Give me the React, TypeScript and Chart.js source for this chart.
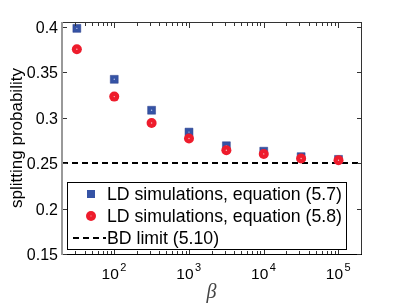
import React, { useEffect, useRef } from "react";
import { Chart, registerables } from "chart.js";
Chart.register(...registerables);

// ---- data ----
const beta = [31.6, 100, 316, 1000, 3162, 10000, 31623, 100000];
const eq57 = [0.398, 0.342, 0.308, 0.284, 0.269, 0.263, 0.257, 0.254];
const eq58 = [0.375, 0.323, 0.294, 0.277, 0.264, 0.26, 0.255, 0.253];
const bdLimit = 0.25;
const xRange = [20, 200000];
const yRange = [0.15, 0.405];
const yTicks = [0.15, 0.2, 0.25, 0.3, 0.35, 0.4];
const yTickLabels = ["0.15", "0.2", "0.25", "0.3", "0.35", "0.4"];
const xMajorTicks = [100, 1000, 10000, 100000];
const xTickBase = "10";
const xTickExps = ["2", "3", "4", "5"];
const legendLabels = [
  "LD simulations, equation (5.7)",
  "LD simulations, equation (5.8)",
  "BD limit (5.10)",
];
const yTitle = "splitting probability";
const xTitle = "β";

const BLUE = "#3553a5";
const RED = "#ee1c2c";
const FONT = "Liberation Sans, Arial, sans-serif";

const framePlugin = {
  id: "frame",
  afterDraw(chart: any) {
    const { ctx, chartArea: ca, scales } = chart;
    const xs = scales.x;
    const ys = scales.y;
    const L = Math.round(ca.left), R = Math.round(ca.right);
    const T = Math.round(ca.top), B = Math.round(ca.bottom);
    ctx.save();
    // frame
    ctx.lineWidth = 1;
    ctx.strokeStyle = "#333";
    ctx.beginPath();
    ctx.moveTo(L, T + 0.5); ctx.lineTo(R, T + 0.5);
    ctx.moveTo(R + 0.5, T); ctx.lineTo(R + 0.5, B);
    ctx.stroke();
    ctx.strokeStyle = "#000";
    ctx.beginPath();
    ctx.moveTo(L, B + 0.5); ctx.lineTo(R + 1, B + 0.5);
    ctx.stroke();
    ctx.strokeStyle = "#999";
    ctx.lineWidth = 2;
    ctx.beginPath();
    ctx.moveTo(L, T); ctx.lineTo(L, B + 1);
    ctx.stroke();

    // y ticks
    ctx.lineWidth = 1;
    ctx.strokeStyle = "#333";
    ctx.fillStyle = "#000";
    ctx.font = `16px ${FONT}`;
    ctx.textAlign = "right";
    ctx.textBaseline = "middle";
    yTicks.forEach((v, i) => {
      const y = Math.round(ys.getPixelForValue(v)) + 0.5;
      ctx.beginPath();
      ctx.moveTo(L + 1, y); ctx.lineTo(L + 5, y);
      ctx.moveTo(R, y); ctx.lineTo(R - 4, y);
      ctx.stroke();
      ctx.fillText(yTickLabels[i], L - 4, y + 1);
    });

    // x ticks (major + minor), top and bottom
    for (let d = 1; d <= 5; d++) {
      for (let m = 1; m <= 9; m++) {
        const v = m * Math.pow(10, d);
        if (v <= xRange[0] || v >= xRange[1]) continue;
        const x = Math.round(xs.getPixelForValue(v)) + 0.5;
        const len = m === 1 ? 5 : 3;
        ctx.beginPath();
        ctx.moveTo(x, B); ctx.lineTo(x, B - len);
        ctx.moveTo(x, T + 1); ctx.lineTo(x, T + 1 + len);
        ctx.stroke();
      }
    }
    // x tick labels with superscripts
    ctx.textAlign = "left";
    ctx.textBaseline = "alphabetic";
    xMajorTicks.forEach((v, i) => {
      const x = xs.getPixelForValue(v);
      ctx.font = `15.5px ${FONT}`;
      const w1 = ctx.measureText(xTickBase).width;
      ctx.font = `11px ${FONT}`;
      const w2 = ctx.measureText(xTickExps[i]).width;
      const x0 = x - (w1 + w2) / 2 - 1;
      ctx.font = `15.5px ${FONT}`;
      ctx.fillText(xTickBase, x0, B + 25);
      ctx.font = `11px ${FONT}`;
      ctx.fillText(xTickExps[i], x0 + w1 + 1.5, B + 17);
    });

    // x title
    ctx.font = `italic 20px Liberation Serif, serif`;
    ctx.textAlign = "center";
    ctx.fillStyle = "#444";
    ctx.fillText(xTitle, (L + R) / 2 + 0, B + 44);

    // y title
    ctx.fillStyle = "#000";
    ctx.save();
    ctx.translate(L - 45, (T + B) / 2 + 0);
    ctx.rotate(-Math.PI / 2);
    ctx.font = `17px ${FONT}`;
    ctx.textAlign = "center";
    ctx.textBaseline = "middle";
    ctx.fillText(yTitle, 0, 0);
    ctx.restore();

    // legend
    const bx0 = L + 5.5, bx1 = L + 284.5, by0 = T + 160.5, by1 = T + 227.5;
    ctx.fillStyle = "#fff";
    ctx.fillRect(bx0, by0, bx1 - bx0, by1 - by0);
    ctx.strokeStyle = "#000";
    ctx.lineWidth = 1;
    ctx.strokeRect(bx0, by0, bx1 - bx0, by1 - by0);
    const rows = [T + 172, T + 194, T + 216];
    const sx = L + 29;
    // square
    ctx.fillStyle = BLUE;
    ctx.fillRect(sx - 4, rows[0] - 4, 8, 8);
    // circle
    ctx.fillStyle = RED;
    ctx.beginPath();
    ctx.arc(sx, rows[1], 5, 0, Math.PI * 2);
    ctx.fill();
    ctx.fillStyle = "#f6b0b0";
    ctx.fillRect(sx - 0.5, rows[1] - 0.5, 1, 1);
    // dashed
    ctx.strokeStyle = "#000";
    ctx.lineWidth = 2;
    ctx.setLineDash([6, 4]);
    ctx.beginPath();
    ctx.moveTo(L + 11, rows[2]); ctx.lineTo(L + 44, rows[2]);
    ctx.stroke();
    ctx.setLineDash([]);
    ctx.fillStyle = "#000";
    ctx.font = `17.7px ${FONT}`;
    ctx.textAlign = "left";
    ctx.textBaseline = "middle";
    legendLabels.forEach((t, i) => ctx.fillText(t, L + 45, rows[i] + 1));
    ctx.restore();
  },
};

export default function App() {
  const ref = useRef<HTMLCanvasElement | null>(null);
  useEffect(() => {
    if (!ref.current) return;
    const sq = beta.map((b, i) => ({ x: b, y: eq57[i] }));
    const ci = beta.map((b, i) => ({ x: b, y: eq58[i] }));
    const chart = new Chart(ref.current, {
      type: "scatter",
      data: {
        datasets: [
          { data: ci, pointRadius: 0.7, pointBackgroundColor: "#f8c0c0", pointBorderWidth: 0 },
          { data: ci, pointRadius: 5, pointBackgroundColor: RED, pointBorderWidth: 0 },
          { data: sq, pointRadius: 0.7, pointBackgroundColor: "#b8c4ea", pointBorderWidth: 0 },
          { data: sq, pointStyle: "rect", pointRadius: 5.6, pointBackgroundColor: BLUE, pointBorderColor: "#2a3f8a", pointBorderWidth: 0.5 },
          {
            data: [
              { x: xRange[0], y: bdLimit },
              { x: xRange[1], y: bdLimit },
            ],
            showLine: true,
            pointRadius: 0,
            borderColor: "#000",
            borderWidth: 2,
            borderDash: [6, 4],
          },
        ],
      } as any,
      options: {
        animation: false,
        responsive: false,
        layout: { padding: { left: 62, top: 22, right: 38, bottom: 50 } },
        plugins: { legend: { display: false }, tooltip: { enabled: false } },
        scales: {
          x: { type: "logarithmic", min: xRange[0], max: xRange[1], display: false },
          y: { type: "linear", min: yRange[0], max: yRange[1], display: false },
        },
      } as any,
      plugins: [framePlugin],
    });
    return () => chart.destroy();
  }, []);
  return (
    <div style={{ position: "absolute", left: 0, top: 0, width: 399, height: 304, background: "#fff" }}>
      <canvas ref={ref} width={399} height={304} style={{ display: "block" }} />
    </div>
  );
}
